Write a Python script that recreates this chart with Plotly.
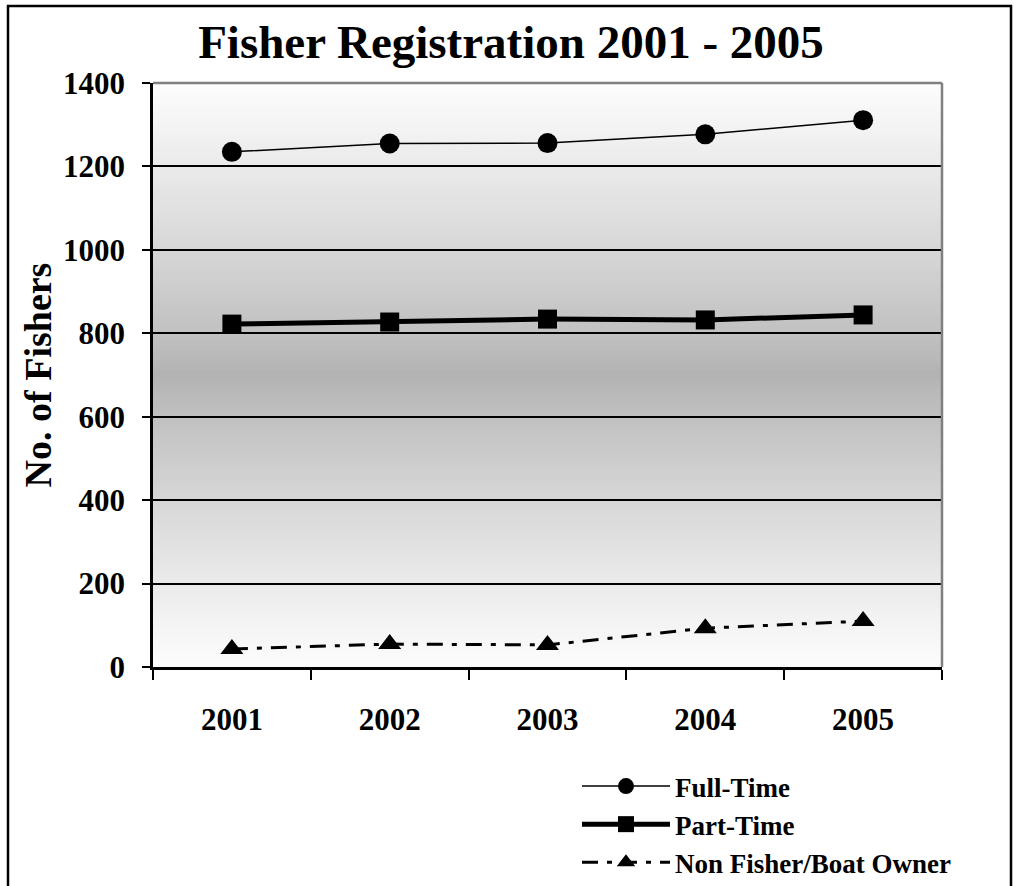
import plotly.graph_objects as go

years = ["2001", "2002", "2003", "2004", "2005"]
full_time = [1235, 1255, 1256, 1277, 1311]
part_time = [822, 827, 834, 832, 844]
non_fisher = [43, 55, 53, 93, 110]

FONT = "Liberation Serif"

fig = go.Figure()

fig.add_trace(go.Scatter(
    x=years, y=full_time, name="Full-Time", mode="lines+markers",
    line=dict(color="black", width=1.5),
    marker=dict(symbol="circle", size=20, color="black"),
    legendgroup="a"))
fig.add_trace(go.Scatter(
    x=years, y=part_time, name="Part-Time", mode="lines+markers",
    line=dict(color="black", width=5),
    marker=dict(symbol="square", size=19, color="black"),
    legendgroup="b"))
fig.add_trace(go.Scatter(
    x=years, y=non_fisher, name="Non Fisher/Boat Owner", mode="lines+markers",
    line=dict(color="black", width=3, dash="16px,9px,5px,9px"),
    marker=dict(symbol="triangle-up", size=20, color="black"),
    legendgroup="c"))

# gradient background (light at edges, dark in the middle)
shapes = []
n = 120
lo, hi = 178, 253
for i in range(n):
    y0 = i / n
    y1 = (i + 1) / n
    mid = (y0 + y1) / 2
    d = abs(mid - 0.5) / 0.5
    v = int(round(lo + (hi - lo) * d ** 0.85))
    shapes.append(dict(type="rect", xref="x domain", yref="y domain",
                       x0=0, x1=1, y0=y0, y1=y1 + 0.002, layer="below",
                       line=dict(width=0), fillcolor=f"rgb({v},{v},{v})"))
# gray top/right border of plot area
shapes.append(dict(type="line", xref="x domain", yref="y domain",
                   x0=0, x1=1, y0=1, y1=1, layer="above",
                   line=dict(color="#808080", width=2.5)))
shapes.append(dict(type="line", xref="x domain", yref="y domain",
                   x0=1, x1=1, y0=0, y1=1, layer="above",
                   line=dict(color="#808080", width=2.5)))
# outer chart frame
shapes.append(dict(type="rect", xref="paper", yref="paper",
                   x0=(8 - 153) / 789, x1=(1011 - 153) / 789,
                   y0=(667 - 960) / 584, y1=(667 - 6) / 584,
                   layer="above", line=dict(color="black", width=2.5)))

fig.update_layout(
    width=1014, height=886,
    margin=dict(l=153, r=72, t=83, b=219, autoexpand=False),
    paper_bgcolor="white",
    plot_bgcolor="rgba(0,0,0,0)",
    font=dict(family=FONT, color="black", weight="bold"),
    title=dict(text="Fisher Registration 2001 - 2005",
               font=dict(family=FONT, size=47, color="black", weight="bold"),
               x=511 / 1014, xanchor="center", xref="container",
               y=1 - 42 / 886, yanchor="middle", yref="container"),
    shapes=shapes,
    showlegend=True,
    legend=dict(x=577 / 1014, xanchor="left", xref="container",
                y=1 - 762 / 886, yanchor="top", yref="container",
                font=dict(family=FONT, size=27, color="black", weight="bold"),
                bgcolor="rgba(0,0,0,0)", borderwidth=0,
                itemwidth=88, tracegroupgap=21,
                traceorder="normal"),
)

fig.update_xaxes(
    type="category", categoryorder="array", categoryarray=years,
    range=[-0.5, 4.5], tickson="boundaries",
    ticks="outside", ticklen=10, tickwidth=2, tickcolor="black",
    showline=True, linecolor="black", linewidth=2.5,
    showgrid=False,
    tickfont=dict(family=FONT, size=31, color="black", weight="bold"),
    ticklabelstandoff=23,
)
fig.update_yaxes(
    range=[0, 1400], dtick=200, tick0=0,
    ticks="outside", ticklen=8, tickwidth=2, tickcolor="black",
    showline=True, linecolor="black", linewidth=2.5,
    showgrid=True, gridcolor="black", gridwidth=1.5,
    zeroline=False,
    tickfont=dict(family=FONT, size=31, color="black", weight="bold"),
    ticklabelstandoff=11,
    title=dict(text="No. of Fishers", standoff=0,
               font=dict(family=FONT, size=38, color="black", weight="bold")),
)

fig.write_html("out.html", config={"displayModeBar": False},
               post_script="document.body.style.margin='0';document.body.style.padding='0';")
